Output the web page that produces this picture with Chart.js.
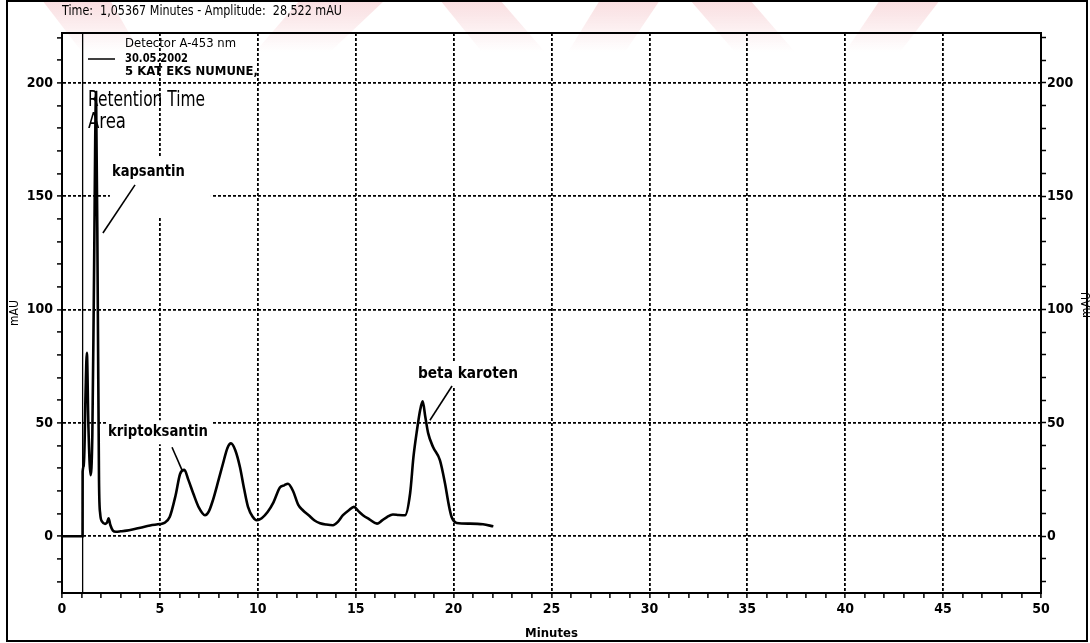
<!DOCTYPE html>
<html>
<head>
<meta charset="utf-8">
<title>HPLC kromatogram - 5 KAT EKS NUMUNE</title>
<script src="https://cdn.jsdelivr.net/npm/chart.js@4.4.1/dist/chart.umd.min.js"></script>
<style>
  html, body { margin: 0; padding: 0; background: #fff; overflow: hidden; }
  canvas { display: block; }
</style>
</head>
<body>
<canvas id="chrom" width="1090" height="643"></canvas>
<script>
// Retention time (minutes) and detector signal (mAU) of the trace
const times = [
  0, 1.05, 1.05367, 1.12, 1.2, 1.27, 1.35, 1.46, 1.55, 1.63, 1.74, 1.83, 1.89, 1.95,
  2.05, 2.2, 2.3, 2.38, 2.47, 2.6, 2.75, 3.0, 3.3, 3.6, 4.0, 4.5, 5.0, 5.2, 5.5, 5.8,
  6.03, 6.25, 6.45, 6.7, 7.0, 7.3, 7.5, 7.71, 8.0, 8.22, 8.45, 8.63, 8.85, 9.09, 9.3,
  9.5, 9.75, 9.94, 10.2, 10.5, 10.8, 11.13, 11.35, 11.54, 11.8, 12.06, 12.3, 12.6,
  12.9, 13.18, 13.5, 13.84, 14.1, 14.35, 14.65, 14.91, 15.15, 15.37, 15.7, 16.09,
  16.35, 16.6, 16.9, 17.2, 17.52, 17.78, 17.95, 18.13, 18.3, 18.42, 18.55, 18.7,
  18.95, 19.3, 19.56, 19.75, 19.9, 20.16, 20.84, 21.5, 22.03
];
const signal = [
  0, 0, 28.522, 31, 62, 81, 48, 27, 45, 110, 196, 100, 25, 10,
  6.5, 5.5, 6, 8, 5, 2.5, 2, 2.2, 2.5, 3, 3.8, 4.8, 5.4, 5.8, 8.5, 18,
  27.5, 29.3, 25, 19, 12.5, 9.3, 11, 16, 25, 32, 39, 41, 38, 30.5, 21,
  13, 8.5, 7.1, 8, 10.7, 15, 21.5, 22.5, 23.2, 20, 14, 11.5, 9.3,
  7, 5.8, 5.2, 4.9, 6.5, 9.3, 11.5, 13, 11, 9.3, 7.5, 5.6,
  7, 8.5, 9.6, 9.4, 9.3, 19, 35, 46.8, 56, 59.5, 53, 45.5,
  39.4, 33.6, 23.4, 14, 8.5, 5.9, 5.6, 5.3, 4.4
];

// Axis ranges and labelled ticks
const minuteTicks = [0, 5, 10, 15, 20, 25, 30, 35, 40, 45, 50];
const mauTicks = [0, 50, 100, 150, 200];
const minuteRange = [0, 50];
const mauRange = [-25, 222];

// Cursor readout
const cursorTime = 1.05367;
const cursorAmplitude = 28.522;

// Legend lines
const legendLines = ['Detector A-453 nm', '30.05.2002', '5 KAT EKS NUMUNE,'];

// Peak names
const peakNames = ['kapsantin', 'kriptoksantin', 'beta karoten'];

const NARROW = "'Liberation Sans Narrow','Arial Narrow','DejaVu Sans Condensed',sans-serif";

// Peak annotations: label anchor and pointer in data units; white box offsets and label width in px
const peakNotes = [
  { name: peakNames[0], t: 2.55, v: 160.8, w: 73,  box: [-2, -14, 101, 59], from: [3.73, 155], to: [2.09, 133.8] },
  { name: peakNames[1], t: 2.35, v: 45.9,  w: 100, box: [-2, -12, 105, 24], from: [5.62, 39.3], to: [6.13, 29.2] },
  { name: peakNames[2], t: 18.18, v: 71.6, w: 100, box: [-3, -12, 105, 24], from: [19.92, 66.3], to: [18.79, 51.2] }
];

// Faint pink background stamp along the top edge: [top-left x, top-right x, bottom-left x, bottom-right x]
const stampStrokes = [
  [42, 110, 82, 140],
  [300, 385, 255, 330],
  [440, 500, 482, 545],
  [600, 660, 568, 625],
  [690, 750, 735, 795],
  [880, 940, 845, 900]
];

function range(a, b, step) {
  const out = [];
  for (let v = a; v <= b + 1e-9; v += step) out.push({ value: Math.round(v * 1000) / 1000 });
  return out;
}
const fmt = (n, d) => n.toFixed(d).replace('.', ',');

// draws a line of text squeezed horizontally to the given width
function fitText(ctx, str, x, y, width, font) {
  ctx.font = font;
  const w = ctx.measureText(str).width;
  ctx.save();
  ctx.translate(x, y);
  ctx.scale(width / w, 1);
  ctx.fillText(str, 0, 0);
  ctx.restore();
}

const overlay = {
  id: 'overlay',
  beforeDraw(chart) {
    const { ctx } = chart;
    ctx.save();
    const g = ctx.createLinearGradient(0, 0, 0, 52);
    g.addColorStop(0, 'rgba(236, 150, 158, 0.32)');
    g.addColorStop(1, 'rgba(236, 150, 158, 0)');
    ctx.fillStyle = g;
    stampStrokes.forEach(s => {
      ctx.beginPath();
      ctx.moveTo(s[0], 0);
      ctx.lineTo(s[1], 0);
      ctx.lineTo(s[3], 52);
      ctx.lineTo(s[2], 52);
      ctx.closePath();
      ctx.fill();
    });
    ctx.restore();
  },
  beforeDatasetsDraw(chart) {
    const { ctx, scales: { x, y } } = chart;
    ctx.save();
    ctx.fillStyle = '#fff';
    peakNotes.forEach(n => {
      const px = x.getPixelForValue(n.t), py = y.getPixelForValue(n.v);
      ctx.fillRect(px + n.box[0], py + n.box[1], n.box[2], n.box[3]);
    });
    ctx.restore();
  },
  afterDraw(chart) {
    const { ctx, chartArea: a, scales: { x, y } } = chart;
    ctx.save();
    ctx.fillStyle = '#000';
    ctx.strokeStyle = '#000';

    // plot frame
    ctx.lineWidth = 2;
    ctx.strokeRect(a.left, a.top, a.right - a.left, a.bottom - a.top);
    // outer window frame
    ctx.strokeRect(7, 1, 1080, 640);

    // cursor line
    const cx = x.getPixelForValue(cursorTime);
    ctx.lineWidth = 1.3;
    ctx.beginPath();
    ctx.moveTo(cx, a.top);
    ctx.lineTo(cx, a.bottom);
    ctx.stroke();

    // cursor readout
    ctx.textBaseline = 'middle';
    ctx.textAlign = 'left';
    fitText(ctx, `Time:  ${fmt(cursorTime, 5)} Minutes - Amplitude:  ${fmt(cursorAmplitude, 3)} mAU`, 62, 11, 280, `14px ${NARROW}`);

    // legend
    fitText(ctx, legendLines[0], 125, 44, 111, `13px ${NARROW}`);
    fitText(ctx, legendLines[1], 125, 59, 63, `bold 13px ${NARROW}`);
    fitText(ctx, legendLines[2], 125, 72, 133, `bold 13px ${NARROW}`);
    ctx.lineWidth = 1.5;
    ctx.beginPath();
    ctx.moveTo(88, 59);
    ctx.lineTo(115, 59);
    ctx.stroke();

    // peak report fields
    fitText(ctx, 'Retention Time', 88, 101, 117, `21px ${NARROW}`);
    fitText(ctx, 'Area', 88, 123, 38, `21px ${NARROW}`);

    // right axis title
    ctx.save();
    ctx.translate(1087, 305);
    ctx.rotate(-Math.PI / 2);
    ctx.textAlign = 'center';
    ctx.font = `12px ${NARROW}`;
    ctx.fillText('mAU', 0, 0);
    ctx.restore();

    // peak labels with pointers
    ctx.lineWidth = 1.6;
    peakNotes.forEach(n => {
      fitText(ctx, n.name, x.getPixelForValue(n.t), y.getPixelForValue(n.v), n.w, `bold 16px ${NARROW}`);
      ctx.beginPath();
      ctx.moveTo(x.getPixelForValue(n.from[0]), y.getPixelForValue(n.from[1]));
      ctx.lineTo(x.getPixelForValue(n.to[0]), y.getPixelForValue(n.to[1]));
      ctx.stroke();
    });
    ctx.restore();
  }
};

const gridDash = [3, 2];
const tickFont = { family: NARROW, size: 14, weight: 'bold' };

new Chart(document.getElementById('chrom'), {
  type: 'line',
  data: {
    datasets: [{
      data: times.map((t, i) => ({ x: t, y: signal[i] })),
      borderColor: '#000',
      borderWidth: 2.6,
      pointRadius: 0,
      cubicInterpolationMode: 'monotone',
      fill: false
    }]
  },
  options: {
    responsive: false,
    animation: false,
    devicePixelRatio: 1,
    layout: { padding: { top: 33, left: 0, right: 0, bottom: 0 } },
    plugins: { legend: { display: false }, tooltip: { enabled: false } },
    scales: {
      x: {
        type: 'linear',
        min: minuteRange[0],
        max: minuteRange[1],
        afterBuildTicks: s => { s.ticks = range(minuteRange[0], minuteRange[1], 1); },
        afterFit: s => { s.height = 50; },
        ticks: {
          autoSkip: false, maxRotation: 0, padding: 3, color: '#000',
          font: tickFont,
          callback: v => minuteTicks.includes(v) ? String(v) : ''
        },
        grid: {
          color: c => (c.tick && minuteTicks.includes(c.tick.value) && c.tick.value > minuteRange[0] && c.tick.value < minuteRange[1]) ? '#000' : 'rgba(0,0,0,0)',
          lineWidth: 1.8,
          tickColor: '#000', tickLength: 5, tickWidth: 1.5
        },
        border: { display: true, color: '#000', width: 2, dash: gridDash },
        title: {
          display: true, text: 'Minutes', color: '#000',
          font: { family: NARROW, size: 13, weight: 'bold' },
          padding: { top: 0, bottom: 2 }
        }
      },
      y: {
        type: 'linear',
        position: 'left',
        min: mauRange[0],
        max: mauRange[1],
        afterBuildTicks: s => { s.ticks = range(-20, 220, 10); },
        afterFit: s => { s.width = 62; },
        ticks: {
          autoSkip: false, padding: 4, color: '#000',
          font: tickFont,
          callback: v => mauTicks.includes(v) ? String(v) : ''
        },
        grid: {
          color: c => (c.tick && mauTicks.includes(c.tick.value)) ? '#000' : 'rgba(0,0,0,0)',
          lineWidth: 1.8,
          tickColor: '#000', tickLength: 5, tickWidth: 1.5
        },
        border: { display: true, color: '#000', width: 2, dash: gridDash },
        title: {
          display: true, text: 'mAU', color: '#000',
          font: { family: NARROW, size: 12 },
          padding: { top: 8, bottom: 0 }
        }
      },
      y2: {
        type: 'linear',
        position: 'right',
        min: mauRange[0],
        max: mauRange[1],
        afterBuildTicks: s => { s.ticks = range(-20, 220, 10); },
        afterFit: s => { s.width = 49; },
        ticks: {
          autoSkip: false, padding: 1, color: '#000',
          font: tickFont,
          callback: v => mauTicks.includes(v) ? String(v) : ''
        },
        grid: {
          drawOnChartArea: false,
          tickColor: '#000', tickLength: 5, tickWidth: 1.5
        },
        border: { display: true, color: '#000', width: 2 }
      }
    }
  },
  plugins: [overlay]
});
</script>
</body>
</html>
